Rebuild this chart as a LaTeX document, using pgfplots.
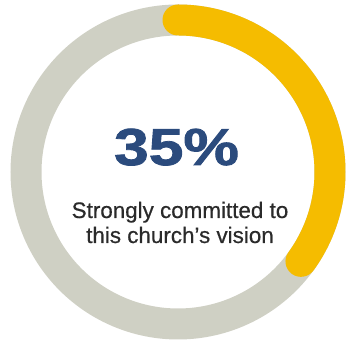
\documentclass[border=0pt]{standalone}
\usepackage{pgfplots}
\pgfplotsset{compat=1.18}
\usepackage{pgfplotstable}
\usepackage{graphicx}
\usepackage{fontspec}
\setmainfont{Liberation Sans}
\newfontfamily\medfont[FakeBold=0.5]{Liberation Sans}
\newfontfamily\heavyfont[FakeBold=1.5]{Liberation Sans Bold}
\definecolor{ringgray}{HTML}{CFD0C4}
\definecolor{ringyellow}{HTML}{F5BC00}
\definecolor{bignum}{HTML}{2B4B7D}
\definecolor{txt}{HTML}{2A2A2A}
\pgfplotstableread{
share
35
}\sharetable
\begin{document}
\begin{tikzpicture}
\pgfplotstablegetelem{0}{share}\of\sharetable
\pgfmathsetmacro\endang{90-3.6*\pgfplotsretval}
\begin{axis}[
  hide axis, scale only axis,
  width=346pt, height=344pt,
  xmin=0, xmax=346, ymin=0, ymax=344,
  clip=false,
]
\path (axis cs:0,0) rectangle (axis cs:346,344);
\addplot[draw=ringgray, line width=31pt, domain=0:360, samples=361, smooth=false]
  ({178+152*cos(x)}, {172+152*sin(x)});
\addplot[draw=ringyellow, line width=31pt, line cap=round, domain=\endang:90, samples=200]
  ({178+152*cos(x)}, {172+152*sin(x)});
\node[anchor=base, text=bignum, font=\fontsize{52}{52}\selectfont\heavyfont] at (axis cs:176.5,179) {\scalebox{1.2}[1]{35\%}};
\node[anchor=base, text=txt, font=\fontsize{22.4}{24}\selectfont\medfont] at (axis cs:180,126) {Strongly committed to};
\node[anchor=base, text=txt, font=\fontsize{22.4}{24}\selectfont\medfont] at (axis cs:180,101) {this church’s vision};
\end{axis}
\end{tikzpicture}
\end{document}
